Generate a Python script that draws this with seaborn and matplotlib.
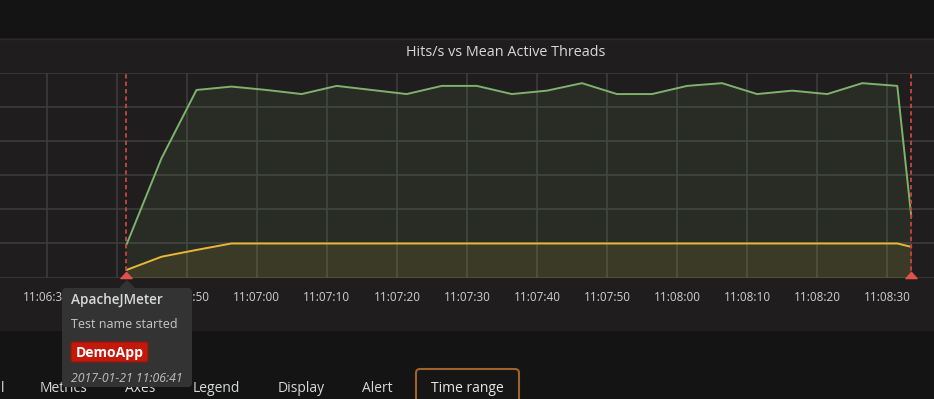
import matplotlib
matplotlib.use("Agg")
import matplotlib.pyplot as plt
import matplotlib.dates as mdates
from matplotlib.patches import FancyBboxPatch, Rectangle, Polygon
from matplotlib.path import Path
import numpy as np
import pandas as pd
import seaborn as sns

# ---------------- data ----------------
title = "Hits/s vs Mean Active Threads"
day = "2017-01-21 "
times = ["11:06:41.4", "11:06:46.4", "11:06:51.4", "11:06:56.4",
         "11:07:01.4", "11:07:06.4", "11:07:11.4", "11:07:16.4",
         "11:07:21.4", "11:07:26.4", "11:07:31.4", "11:07:36.4",
         "11:07:41.4", "11:07:46.4", "11:07:51.4", "11:07:56.4",
         "11:08:01.4", "11:08:06.4", "11:08:11.4", "11:08:16.4",
         "11:08:21.4", "11:08:26.4", "11:08:31.4", "11:08:33.4"]
hits = [9.6, 35.0, 55.1, 56.1, 55.1, 53.9, 56.3, 55.1, 53.9, 56.3, 56.3, 53.9,
        54.9, 57.1, 53.9, 53.9, 56.3, 57.1, 53.9, 54.9, 53.9, 57.1, 56.3, 17.9]
threads = [2.2, 6.1, 8.1, 10.0, 10.0, 10.0, 10.0, 10.0, 10.0, 10.0, 10.0, 10.0,
           10.0, 10.0, 10.0, 10.0, 10.0, 10.0, 10.0, 10.0, 10.0, 10.0, 10.0, 9.0]
series_names = ["Hits/s", "Mean Active Threads"]
series_colors = ["#7eb26d", "#eab839"]
annotation_times = ["11:06:41.4", "11:08:33.4"]
x_range = ["11:06:23.36", "11:08:36.64"]
y_range = [0, 60]
tick_label_fmt = "%H:%M:%S"
tooltip_title = "ApacheJMeter"
tooltip_text = "Test name started"
tooltip_tag = "DemoApp"
tooltip_time = "2017-01-21 11:06:41"
tabs = ["l", "Metrics", "Axes", "Legend", "Display", "Alert"]
tab_x = [1, 40, 125, 193, 278, 362]
active_tab = "Time range"

# ---------------- style ----------------
sns.set_style("dark")
plt.rcParams["font.family"] = ["Open Sans", "DejaVu Sans"]

W, H = 934, 399
BG = "#141414"
PANEL = "#1f1d1d"
GRID = "#3e3e3e"
TXT = "#d8d9da"

ts = pd.to_datetime([day + t for t in times])
df = pd.DataFrame({
    "time": list(ts) * 2,
    "value": hits + threads,
    "series": [series_names[0]] * len(ts) + [series_names[1]] * len(ts),
})

fig = plt.figure(figsize=(W / 100, H / 100), dpi=100)
fig.patch.set_facecolor(BG)

# background panel
bg = fig.add_axes([0, 0, 1, 1], zorder=0)
bg.set_xlim(0, W)
bg.set_ylim(H, 0)
bg.axis("off")
bg.add_patch(Rectangle((0, 38), W, 293, facecolor=PANEL, edgecolor="none"))
bg.plot([0, W], [38.5, 38.5], color="#2a2a2a", lw=1.0)

# main axes
y_top_px, y_bot_px = 73.3, 277.5
ax = fig.add_axes([0, 1 - y_bot_px / H, 1, (y_bot_px - y_top_px) / H], zorder=1)
ax.set_facecolor("none")

sns.lineplot(data=df, x="time", y="value", hue="series",
             palette=dict(zip(series_names, series_colors)),
             linewidth=1.4, legend=False, ax=ax, zorder=4)
for name, vals, col in zip(series_names, [hits, threads], series_colors):
    ax.fill_between(ts, 0, vals, color=col, alpha=0.1, lw=0, zorder=2)

x0, x1 = pd.to_datetime([day + t for t in x_range])
ax.set_xlim(x0, x1)
ax.set_ylim(*y_range)
ax.set_yticks(np.arange(y_range[0], y_range[1] + 1, 10))
ax.set_yticklabels([])
ax.xaxis.set_major_locator(mdates.SecondLocator(bysecond=range(0, 60, 10)))
ax.xaxis.set_major_formatter(mdates.DateFormatter(tick_label_fmt))
ax.grid(True, color=GRID, lw=1.1, zorder=1)
ax.set_axisbelow(True)
for s in ax.spines.values():
    s.set_visible(False)
ax.tick_params(axis="x", length=0, pad=10, labelsize=8.5, labelcolor="#d0d0d0")
ax.tick_params(axis="y", length=0)
ax.set_xlabel("")
ax.set_ylabel("")

# annotations
ann = pd.to_datetime([day + t for t in annotation_times])
tri = Path([(-1, -0.55), (1, -0.55), (0, 0.55), (-1, -0.55)],
           [Path.MOVETO, Path.LINETO, Path.LINETO, Path.CLOSEPOLY])
for a in ann:
    ax.axvline(a, color="#c0433d", lw=1.4, linestyle=(0, (2.2, 1.6)), zorder=5)
    ax.plot([a], [0.014], marker=tri, markersize=8, color="#e0524a",
            transform=ax.get_xaxis_transform(), clip_on=False, zorder=6)

# overlay (title, tooltip, tabs)
ov = fig.add_axes([0, 0, 1, 1], zorder=5)
ov.set_xlim(0, W)
ov.set_ylim(H, 0)
ov.axis("off")
ov.patch.set_alpha(0)

ov.text(505.5, 53, title, ha="center", va="center", fontsize=10.4, color=TXT)

# tabs
for t, x in zip(tabs, tab_x):
    ov.text(x, 388, t, ha="left", va="center", fontsize=10, color=TXT, zorder=2)
ov.add_patch(FancyBboxPatch((416, 369), 103, 40,
                            boxstyle="round,pad=0,rounding_size=4",
                            facecolor="#161616", edgecolor="#a0622a", lw=1.5, zorder=2))
ov.text(467, 389, active_tab, ha="center", va="center", fontsize=10, color="#e6e6e6", zorder=3)

# tooltip
ov.add_patch(FancyBboxPatch((62, 288), 130, 99,
                            boxstyle="round,pad=0,rounding_size=4",
                            facecolor="#333333", edgecolor="none", zorder=10))
ov.add_patch(Polygon([(118.5, 288.5), (135.5, 288.5), (127, 280)], closed=True,
                     facecolor="#333333", edgecolor="none", zorder=10))
ov.text(71, 300, tooltip_title, ha="left", va="center", fontsize=9.8,
        fontweight="semibold", color=TXT, zorder=11)
ov.text(71, 324, tooltip_text, ha="left", va="center", fontsize=9,
        color="#c8c8c8", zorder=11)
ov.add_patch(FancyBboxPatch((71, 342), 77, 20,
                            boxstyle="round,pad=0,rounding_size=2",
                            facecolor="#c4180a", edgecolor="#8a1a10", lw=0.8, zorder=11))
ov.text(109.5, 352.5, tooltip_tag, ha="center", va="center", fontsize=10,
        fontweight="bold", color="white", zorder=12)
ov.text(71, 379, tooltip_time, ha="left", va="center", fontsize=8.8,
        style="italic", color="#c0c0c0", zorder=11)

fig.savefig("out.png", dpi=100, facecolor=BG)
